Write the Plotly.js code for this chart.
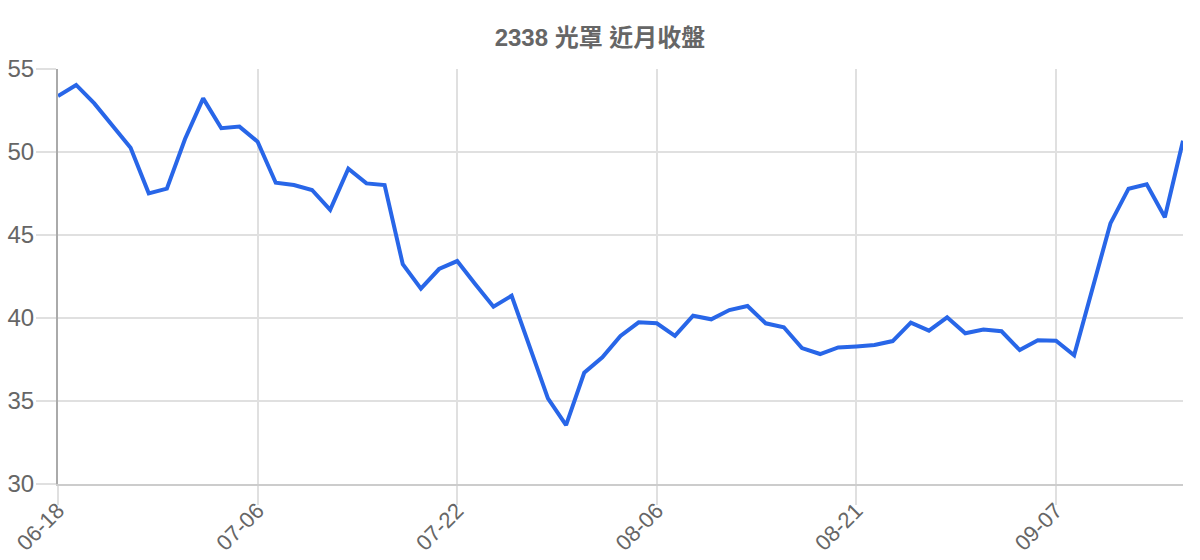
<!DOCTYPE html>
<html>
<head>
<meta charset="utf-8">
<script src="https://cdn.plot.ly/plotly-3.0.1.min.js"></script>
<style>
  html, body { margin: 0; padding: 0; background: #fff; }
  #chart { width: 1200px; height: 560px; }
</style>
</head>
<body>
<div id="chart"></div>
<script>
// 2338 光罩 near-month close
var dates = [
  "06-18", "06-19", "06-20", "06-23", "06-24", "06-25", "06-26", "06-27", "06-30", "07-01", "07-02",
  "07-06", "07-07", "07-08", "07-09", "07-10", "07-11", "07-14", "07-15", "07-16", "07-17", "07-18",
  "07-22", "07-23", "07-24", "07-25", "07-28", "07-29", "07-30", "07-31", "08-01", "08-04", "08-05",
  "08-06", "08-07", "08-08", "08-11", "08-12", "08-13", "08-14", "08-15", "08-18", "08-19", "08-20",
  "08-21", "08-22", "08-25", "08-26", "08-27", "08-28", "08-29", "09-01", "09-02", "09-03", "09-04",
  "09-07", "09-08", "09-09", "09-10", "09-11", "09-12", "09-15", "09-16"
];

var closes = [
  53.37, 54.04, 52.93, 51.63, 50.26, 47.51, 47.79, 50.78, 53.23, 51.43, 51.53,
  50.62, 48.15, 48.01, 47.71, 46.51, 48.99, 48.11, 48.01, 43.24, 41.77, 42.95,
  43.43, 42.03, 40.68, 41.34, 38.17, 35.16, 33.55, 36.70, 37.63, 38.92, 39.74,
  39.68, 38.92, 40.14, 39.92, 40.48, 40.72, 39.68, 39.44, 38.19, 37.83, 38.23,
  38.29, 38.37, 38.61, 39.72, 39.24, 40.04, 39.08, 39.30, 39.20, 38.07, 38.66,
  38.63, 37.75, 41.69, 45.70, 47.79, 48.05, 46.07, 50.68
];

var chartTitle = "2338 光罩 近月收盤";

var textColor = "#666666";
var gridColor = "#e0e0e0";

Plotly.newPlot("chart", [{
  type: "scatter",
  mode: "lines",
  x: dates,
  y: closes,
  line: { color: "#2866e8", width: 4 },
  hoverinfo: "x+y"
}], {
  width: 1200,
  height: 560,
  paper_bgcolor: "#ffffff",
  plot_bgcolor: "#ffffff",
  margin: { l: 58, r: 17, t: 69, b: 76 },
  showlegend: false,
  font: { family: "Liberation Sans, Arial, Noto Sans CJK TC, sans-serif", color: textColor },
  title: {
    text: "<b>" + chartTitle + "</b>",
    font: { family: "Liberation Sans, Noto Sans CJK TC, sans-serif", size: 24, color: textColor },
    x: 0.5,
    xanchor: "center",
    y: 1,
    yref: "paper",
    yanchor: "bottom",
    pad: { b: 23 }
  },
  xaxis: {
    type: "category",
    range: [0, dates.length - 1],
    tick0: 0,
    dtick: 11,
    tickangle: -45,
    ticks: "outside",
    ticklen: 19,
    tickcolor: gridColor,
    tickwidth: 2,
    ticklabelstandoff: -16,
    tickfont: { size: 22, color: textColor },
    showgrid: true,
    gridcolor: gridColor,
    gridwidth: 1.5,
    showline: true,
    linecolor: "#cccccc",
    linewidth: 2,
    zeroline: false,
    fixedrange: true
  },
  yaxis: {
    range: [30, 55],
    dtick: 5,
    ticks: "outside",
    ticklen: 20,
    tickcolor: gridColor,
    tickwidth: 2,
    ticklabelstandoff: -3,
    tickfont: { size: 24, color: textColor },
    showgrid: true,
    gridcolor: gridColor,
    gridwidth: 1.5,
    showline: true,
    linecolor: "#aaaaaa",
    linewidth: 2,
    zeroline: false,
    fixedrange: true
  }
}, { displayModeBar: false, responsive: false });
</script>
</body>
</html>
